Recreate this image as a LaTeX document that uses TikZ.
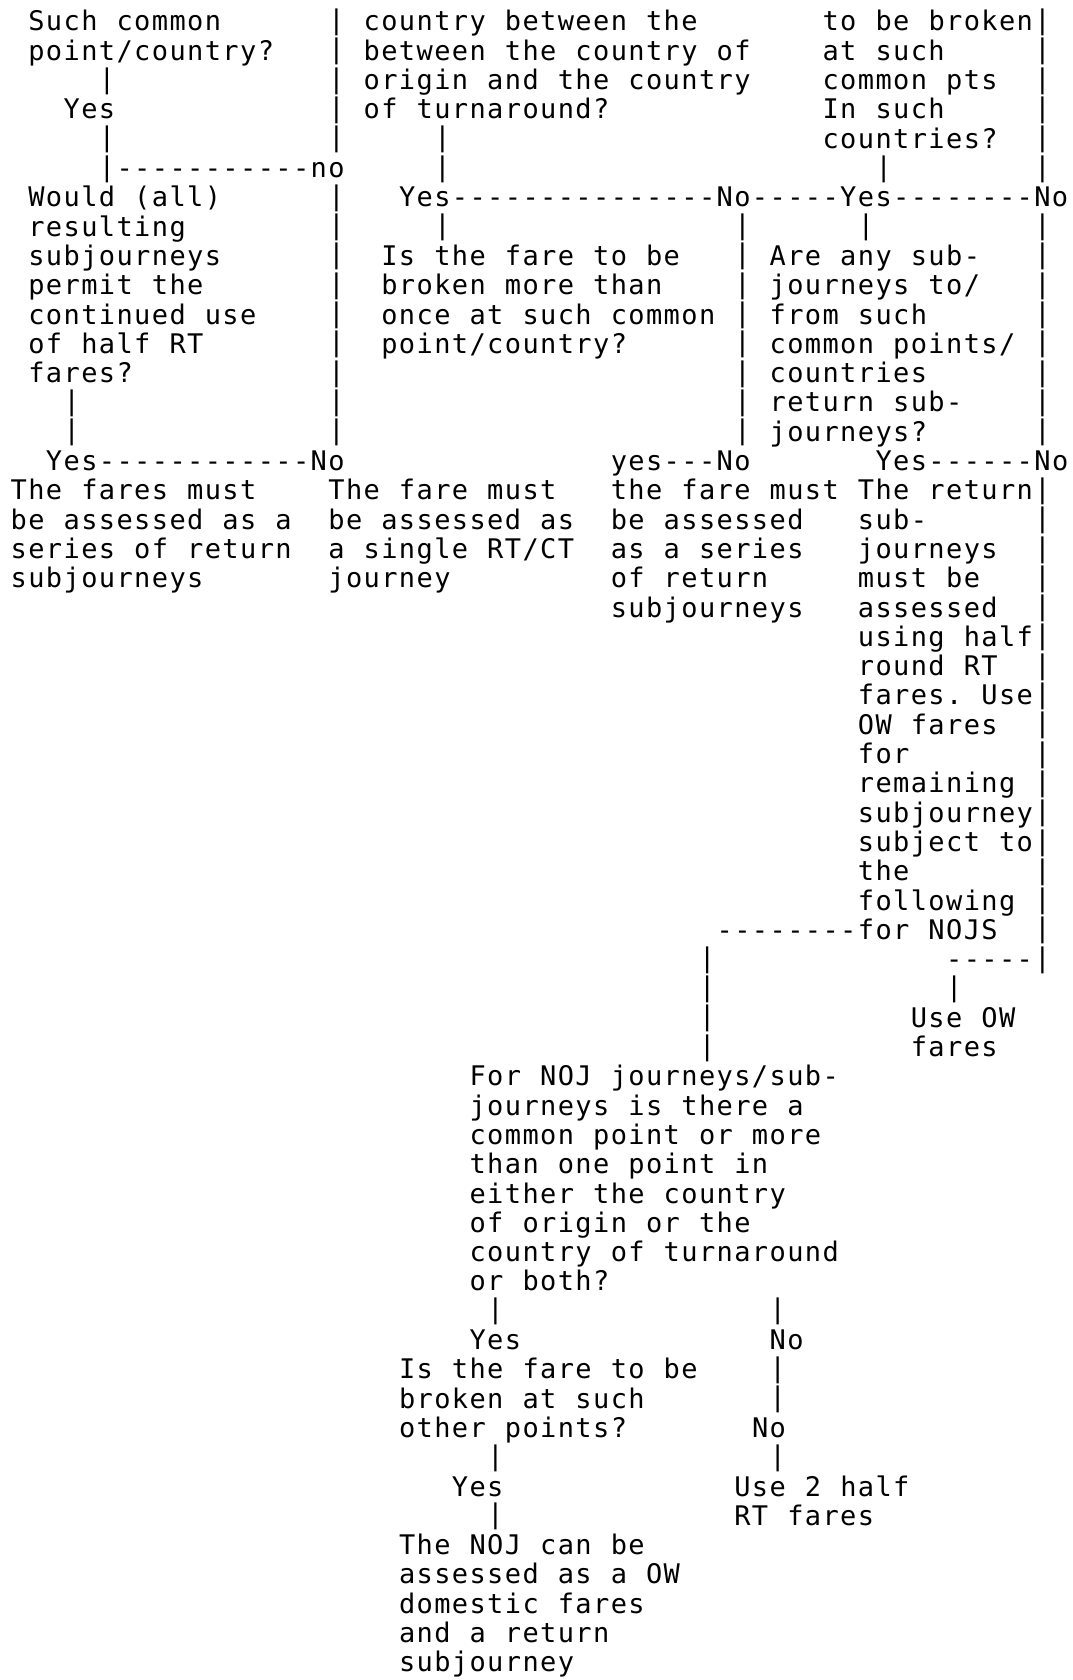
\documentclass[tikz,border=0pt]{standalone}
\usepackage{fontspec}
\setmonofont{DejaVu Sans Mono}
\ExplSyntaxOn
\cs_new_protected:Npn \monoline #1
  { \str_map_inline:nn {#1} { \mono_cell:n {##1} } }
\cs_new_protected:Npn \mono_cell:n #1
  {
    \str_if_eq:nnTF {#1} {|}
      { \makebox[17.65pt][c]{\raisebox{1.4pt}{|}} }
      { \makebox[17.65pt][c]{#1} }
  }
\ExplSyntaxOff
\newcommand\cellat[3]{\node[txt] (r#1c#2) at ({10+17.65*#2},{-31-29.3*#1}) {\monoline{#3}};}
\begin{document}
\begin{tikzpicture}[x=1pt,y=1pt,
  txt/.style={anchor=base west,inner sep=0pt,outer sep=0pt,text=black,
    font=\ttfamily\fontsize{27}{29.3}\selectfont}]
\fill[white] (0,0) rectangle (1072,-1680);
\useasboundingbox (0,0) rectangle (1072,-1680);
% row 0
\cellat{0}{1}{Such common}\cellat{0}{18}{|}\cellat{0}{20}{country between the}\cellat{0}{46}{to be broken|}
% row 1
\cellat{1}{1}{point/country?}\cellat{1}{18}{|}\cellat{1}{20}{between the country of}\cellat{1}{46}{at such}\cellat{1}{58}{|}
% row 2
\cellat{2}{5}{|}\cellat{2}{18}{|}\cellat{2}{20}{origin and the country}\cellat{2}{46}{common pts}\cellat{2}{58}{|}
% row 3
\cellat{3}{3}{Yes}\cellat{3}{18}{|}\cellat{3}{20}{of turnaround?}\cellat{3}{46}{In such}\cellat{3}{58}{|}
% row 4
\cellat{4}{5}{|}\cellat{4}{18}{|}\cellat{4}{24}{|}\cellat{4}{46}{countries?}\cellat{4}{58}{|}
% row 5
\cellat{5}{5}{|-----------no}\cellat{5}{24}{|}\cellat{5}{49}{|}\cellat{5}{58}{|}
% row 6
\cellat{6}{1}{Would (all)}\cellat{6}{18}{|}\cellat{6}{22}{Yes---------------No-----Yes--------No}
% row 7
\cellat{7}{1}{resulting}\cellat{7}{18}{|}\cellat{7}{24}{|}\cellat{7}{41}{|}\cellat{7}{48}{|}\cellat{7}{58}{|}
% row 8
\cellat{8}{1}{subjourneys}\cellat{8}{18}{|}\cellat{8}{21}{Is the fare to be}\cellat{8}{41}{|}\cellat{8}{43}{Are any sub-}\cellat{8}{58}{|}
% row 9
\cellat{9}{1}{permit the}\cellat{9}{18}{|}\cellat{9}{21}{broken more than}\cellat{9}{41}{|}\cellat{9}{43}{journeys to/}\cellat{9}{58}{|}
% row 10
\cellat{10}{1}{continued use}\cellat{10}{18}{|}\cellat{10}{21}{once at such common}\cellat{10}{41}{|}\cellat{10}{43}{from such}\cellat{10}{58}{|}
% row 11
\cellat{11}{1}{of half RT}\cellat{11}{18}{|}\cellat{11}{21}{point/country?}\cellat{11}{41}{|}\cellat{11}{43}{common points/}\cellat{11}{58}{|}
% row 12
\cellat{12}{1}{fares?}\cellat{12}{18}{|}\cellat{12}{41}{|}\cellat{12}{43}{countries}\cellat{12}{58}{|}
% row 13
\cellat{13}{3}{|}\cellat{13}{18}{|}\cellat{13}{41}{|}\cellat{13}{43}{return sub-}\cellat{13}{58}{|}
% row 14
\cellat{14}{3}{|}\cellat{14}{18}{|}\cellat{14}{41}{|}\cellat{14}{43}{journeys?}\cellat{14}{58}{|}
% row 15
\cellat{15}{2}{Yes------------No}\cellat{15}{34}{yes---No}\cellat{15}{49}{Yes------No}
% row 16
\cellat{16}{0}{The fares must}\cellat{16}{18}{The fare must}\cellat{16}{34}{the fare must}\cellat{16}{48}{The return|}
% row 17
\cellat{17}{0}{be assessed as a}\cellat{17}{18}{be assessed as}\cellat{17}{34}{be assessed}\cellat{17}{48}{sub-}\cellat{17}{58}{|}
% row 18
\cellat{18}{0}{series of return}\cellat{18}{18}{a single RT/CT}\cellat{18}{34}{as a series}\cellat{18}{48}{journeys}\cellat{18}{58}{|}
% row 19
\cellat{19}{0}{subjourneys}\cellat{19}{18}{journey}\cellat{19}{34}{of return}\cellat{19}{48}{must be}\cellat{19}{58}{|}
% row 20
\cellat{20}{34}{subjourneys}\cellat{20}{48}{assessed}\cellat{20}{58}{|}
% rows 21-30
\cellat{21}{48}{using half|}
\cellat{22}{48}{round RT}\cellat{22}{58}{|}
\cellat{23}{48}{fares. Use|}
\cellat{24}{48}{OW fares}\cellat{24}{58}{|}
\cellat{25}{48}{for}\cellat{25}{58}{|}
\cellat{26}{48}{remaining}\cellat{26}{58}{|}
\cellat{27}{48}{subjourney|}
\cellat{28}{48}{subject to|}
\cellat{29}{48}{the}\cellat{29}{58}{|}
\cellat{30}{48}{following}\cellat{30}{58}{|}
% row 31
\cellat{31}{40}{--------for NOJS}\cellat{31}{58}{|}
% rows 32-35
\cellat{32}{39}{|}\cellat{32}{53}{-----|}
\cellat{33}{39}{|}\cellat{33}{53}{|}
\cellat{34}{39}{|}\cellat{34}{51}{Use OW}
\cellat{35}{39}{|}\cellat{35}{51}{fares}
% rows 36-43
\cellat{36}{26}{For NOJ journeys/sub-}
\cellat{37}{26}{journeys is there a}
\cellat{38}{26}{common point or more}
\cellat{39}{26}{than one point in}
\cellat{40}{26}{either the country}
\cellat{41}{26}{of origin or the}
\cellat{42}{26}{country of turnaround}
\cellat{43}{26}{or both?}
% rows 44-51
\cellat{44}{27}{|}\cellat{44}{43}{|}
\cellat{45}{26}{Yes}\cellat{45}{43}{No}
\cellat{46}{22}{Is the fare to be}\cellat{46}{43}{|}
\cellat{47}{22}{broken at such}\cellat{47}{43}{|}
\cellat{48}{22}{other points?}\cellat{48}{42}{No}
\cellat{49}{27}{|}\cellat{49}{43}{|}
\cellat{50}{25}{Yes}\cellat{50}{41}{Use 2 half}
\cellat{51}{27}{|}\cellat{51}{41}{RT fares}
% rows 52-56
\cellat{52}{22}{The NOJ can be}
\cellat{53}{22}{assessed as a OW}
\cellat{54}{22}{domestic fares}
\cellat{55}{22}{and a return}
\cellat{56}{22}{subjourney}
\end{tikzpicture}
\end{document}
